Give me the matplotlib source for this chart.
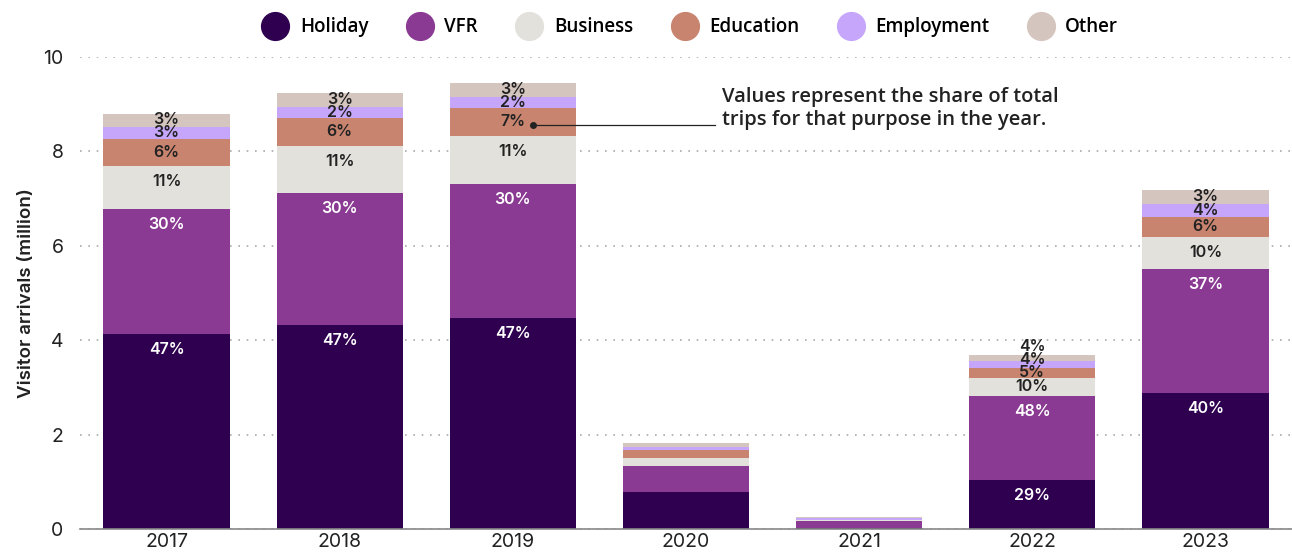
import matplotlib
matplotlib.use("Agg")
import matplotlib.pyplot as plt
import numpy as np
from matplotlib.lines import Line2D

plt.rcParams['font.family'] = ['Inter', 'DejaVu Sans']

# data (million visitor arrivals)
years = ['2017', '2018', '2019', '2020', '2021', '2022', '2023']
purposes = ['Holiday', 'VFR', 'Business', 'Education', 'Employment', 'Other']
holiday = [4.13, 4.32, 4.47, 0.78, 0.03, 1.04, 2.88]
vfr = [2.65, 2.80, 2.84, 0.55, 0.14, 1.78, 2.63]
business = [0.91, 0.99, 1.02, 0.17, 0.02, 0.38, 0.68]
education = [0.57, 0.60, 0.59, 0.17, 0.01, 0.21, 0.42]
employment = [0.26, 0.23, 0.23, 0.07, 0.03, 0.15, 0.28]
other = [0.27, 0.30, 0.30, 0.08, 0.03, 0.13, 0.29]

# share labels (%), None = not shown
lab_holiday = [47, 47, 47, None, None, 29, 40]
lab_vfr = [30, 30, 30, None, None, 48, 37]
lab_business = [11, 11, 11, None, None, 10, 10]
lab_education = [6, 6, 7, None, None, 5, 6]
lab_employment = [3, 2, 2, None, None, 4, 4]
lab_other = [3, 3, 3, None, None, 4, 3]

colors = ['#2e004f', '#8a3a92', '#e2e1dc', '#c8846f', '#c6a6fb', '#d5c5bf']
text_colors = ['white', 'white', '#222222', '#222222', '#222222', '#222222']

series = [holiday, vfr, business, education, employment, other]
labels = [lab_holiday, lab_vfr, lab_business, lab_education, lab_employment, lab_other]

fig = plt.figure(figsize=(12.92, 5.58), dpi=100)
ax = fig.add_axes([0.062, 0.052, 0.938, 0.846])

x = np.arange(len(years))
bottom = np.zeros(len(years))
last_label_y = np.full(len(years), -np.inf)
for vals, labs, col, tcol, name in zip(series, labels, colors, text_colors, purposes):
    vals = np.array(vals)
    ax.bar(x, vals, 0.73, bottom=bottom, color=col, zorder=3, label=name)
    for i, (v, lab) in enumerate(zip(vals, labs)):
        if lab is None:
            continue
        top = bottom[i] + v
        # big segments: label near the top, small ones: centred
        y = top - min(v / 2, 0.33)
        # keep stacked small labels from sitting on each other
        y = max(y, last_label_y[i] + 0.28)
        last_label_y[i] = y
        ax.text(x[i], y, f'{lab}%', ha='center', va='center', fontsize=11.5,
                color=tcol, fontweight='semibold', zorder=4)
    bottom += vals

ax.set_xlim(-0.5, 6.5)
ax.set_ylim(0, 10)
ax.set_xticks(x)
ax.set_xticklabels(years)
ax.set_yticks([0, 2, 4, 6, 8, 10])
ax.tick_params(axis='both', length=0, labelsize=14, colors='#222222')
ax.tick_params(axis='y', pad=12)
ax.tick_params(axis='x', pad=3)
ax.set_ylabel('Visitor arrivals (million)', fontsize=13.5, fontweight='semibold',
              color='#222222', labelpad=6)

for s in ['top', 'right', 'left']:
    ax.spines[s].set_visible(False)
ax.spines['bottom'].set_color('#888888')
ax.spines['bottom'].set_linewidth(1.2)
ax.spines['bottom'].set_zorder(5)
ax.yaxis.grid(True, linestyle=(0, (1, 4)), color='#aaaaaa', linewidth=1.2, zorder=0)
ax.set_axisbelow(True)

# annotation
ax.plot([2.116], [8.56], 'o', color='#222222', markersize=4, zorder=6)
ax.plot([2.116, 3.17], [8.56, 8.56], color='#222222', linewidth=0.9, zorder=6)
ax.text(3.21, 8.9, 'Values represent the share of total\ntrips for that purpose in the year.',
        ha='left', va='center', fontsize=14.5, fontweight='semibold', color='#222222',
        family=['Open Sans', 'DejaVu Sans'], linespacing=1.2)

handles = [Line2D([], [], marker='o', linestyle='', markersize=20, color=c) for c in colors]
fig.legend(handles, purposes, loc='center', bbox_to_anchor=(0.532, 0.951), ncol=6,
           frameon=False, handletextpad=0.3, columnspacing=1.75,
           prop={'family': ['Open Sans', 'DejaVu Sans'], 'size': 13.5, 'weight': 'semibold'})

fig.savefig('out.png', dpi=100)
